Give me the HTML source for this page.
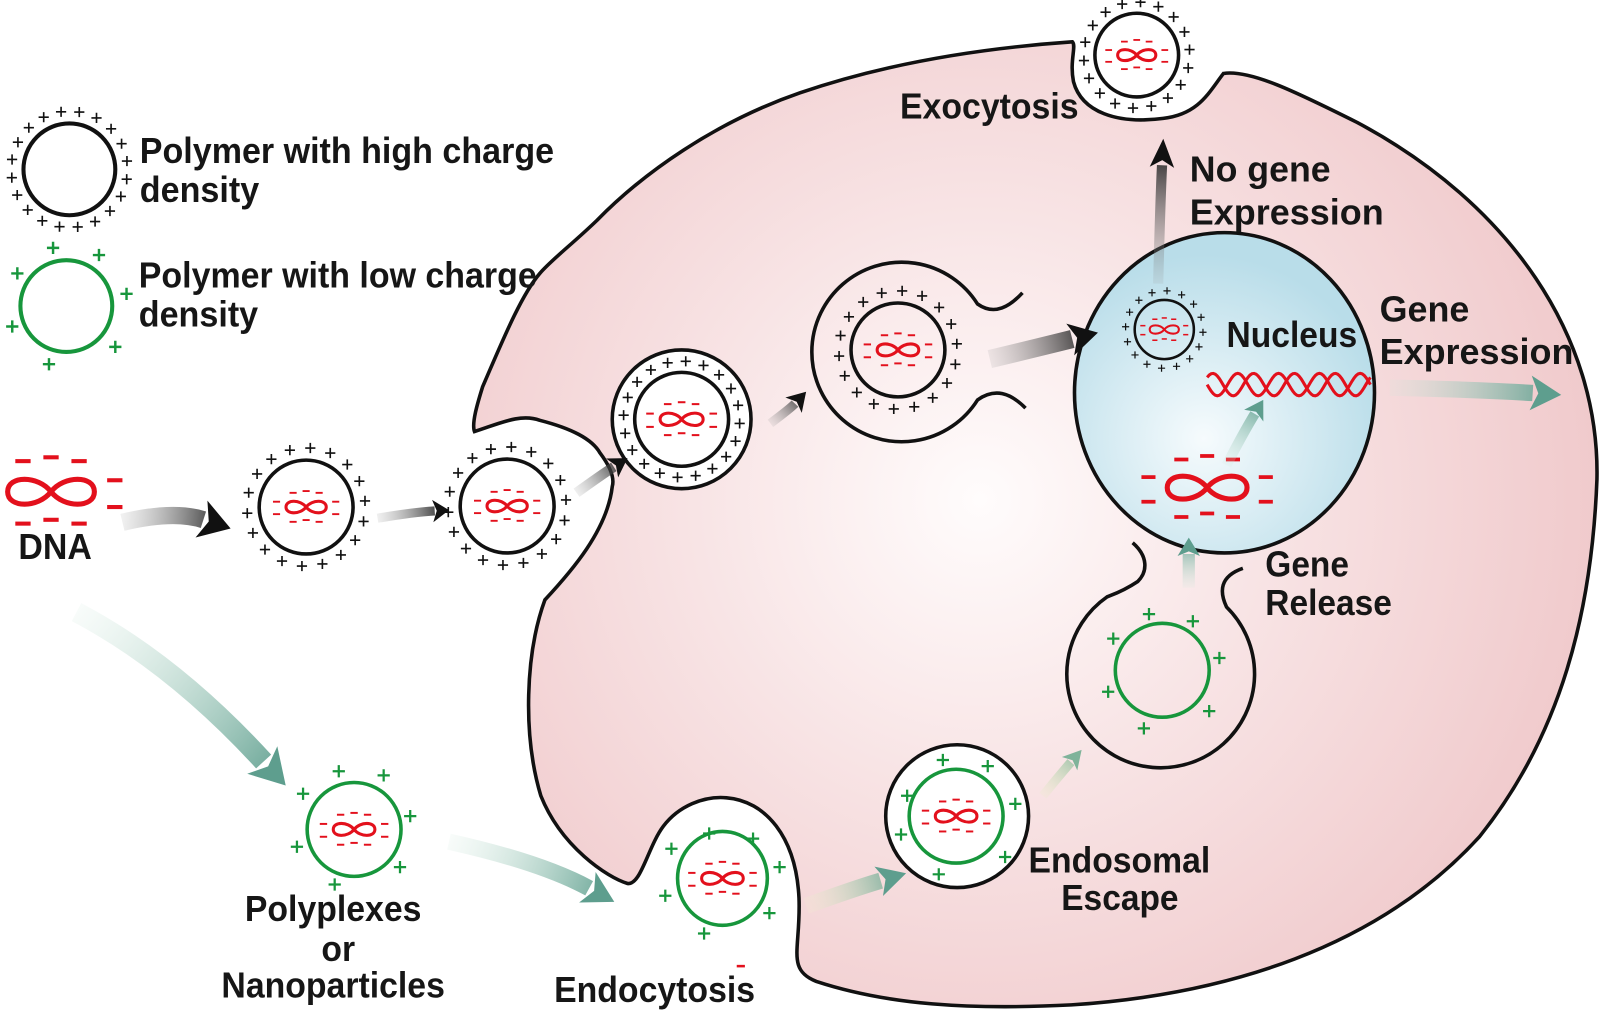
<!DOCTYPE html>
<html><head><meta charset="utf-8"><style>
html,body{margin:0;padding:0;background:#fff;}
svg{display:block;}
text{font-family:"Liberation Sans",Arial,sans-serif;font-weight:bold;font-size:35px;fill:#161616;}
</style></head><body>
<svg id="s" width="1600" height="1010" viewBox="0 0 1568 990" preserveAspectRatio="none" xmlns="http://www.w3.org/2000/svg">
<defs>
<radialGradient id="cellg" cx="960" cy="490" r="620" gradientUnits="userSpaceOnUse">
<stop offset="0" stop-color="#fffcfc"/><stop offset="0.45" stop-color="#f8e4e5"/><stop offset="1" stop-color="#f0c9cb"/></radialGradient>
<radialGradient id="nucg" cx="1180" cy="430" r="180" gradientUnits="userSpaceOnUse">
<stop offset="0" stop-color="#f6fbfd"/><stop offset="1" stop-color="#b9dde9"/></radialGradient>
</defs>
<path d="M465,423 C490,415 510,405 529,412 C560,420 580,430 588,444 C600,460 602,470 600,477 C595,520 560,560 534,588 C515,640 512,720 530,780 C550,830 595,860 615,866 C628,868 635,830 650,810 C665,790 690,780 712,782 C750,785 780,820 783,880 C785,930 770,950 800,962 C870,985 950,990 1050,985 C1200,975 1350,930 1450,820 C1530,720 1560,600 1565,470 C1568,330 1480,200 1330,120 C1270,90 1225,68 1199,72 C1185,90 1175,112 1140,116 C1095,122 1060,110 1052,80 C1048,60 1055,45 1051,41 C950,48 860,65 784,91 C700,120 630,170 585,216 C560,240 540,255 529,268 C510,290 490,340 473,379 C468,395 462,415 465,423 Z" fill="url(#cellg)" stroke="#111" stroke-width="3.5"/>
<ellipse cx="1200" cy="385" rx="147" ry="157" fill="url(#nucg)" stroke="#111" stroke-width="3.5"/>
<path d="M1002,287 C990,300 975,310 958,298 A88,88 0 1 0 958,392 C975,380 990,385 1005,400" fill="none" stroke="#111" stroke-width="3.5"/>
<path d="M1110,532 C1125,545 1125,560 1115,570 C1100,580 1090,583 1085,585 A92,92 0 1 0 1202,595 C1195,580 1195,565 1218,557" fill="none" stroke="#111" stroke-width="3.5"/>
<circle cx="668" cy="411" r="68" fill="#fff" stroke="#111" stroke-width="3.5"/>
<ellipse cx="938" cy="800" rx="70" ry="70" fill="#fff" stroke="#111" stroke-width="3.5"/>
<g id="g"></g>
<text x="137" y="160" textLength="406" lengthAdjust="spacingAndGlyphs">Polymer with high charge</text>
<text x="137" y="198" textLength="117" lengthAdjust="spacingAndGlyphs">density</text>
<text x="136" y="282" textLength="390" lengthAdjust="spacingAndGlyphs">Polymer with low charge</text>
<text x="136" y="320" textLength="117" lengthAdjust="spacingAndGlyphs">density</text>
<text x="18" y="548" textLength="72" lengthAdjust="spacingAndGlyphs">DNA</text>
<text x="882" y="116" textLength="175" lengthAdjust="spacingAndGlyphs">Exocytosis</text>
<text x="1166" y="178" textLength="138" lengthAdjust="spacingAndGlyphs">No gene</text>
<text x="1166" y="220" textLength="190" lengthAdjust="spacingAndGlyphs">Expression</text>
<text x="1202" y="340" textLength="128" lengthAdjust="spacingAndGlyphs">Nucleus</text>
<text x="1352" y="315" textLength="88" lengthAdjust="spacingAndGlyphs">Gene</text>
<text x="1352" y="357" textLength="190" lengthAdjust="spacingAndGlyphs">Expression</text>
<text x="1240" y="565" textLength="82" lengthAdjust="spacingAndGlyphs">Gene</text>
<text x="1240" y="603" textLength="124" lengthAdjust="spacingAndGlyphs">Release</text>
<text x="1008" y="855" textLength="178" lengthAdjust="spacingAndGlyphs">Endosomal</text>
<text x="1040" y="892" textLength="115" lengthAdjust="spacingAndGlyphs">Escape</text>
<text x="240" y="903" textLength="173" lengthAdjust="spacingAndGlyphs">Polyplexes</text>
<text x="315" y="942" textLength="33" lengthAdjust="spacingAndGlyphs">or</text>
<text x="217" y="978" textLength="219" lengthAdjust="spacingAndGlyphs">Nanoparticles</text>
<text x="543" y="982" textLength="197" lengthAdjust="spacingAndGlyphs">Endocytosis</text>
</svg>
<script>
var NS='http://www.w3.org/2000/svg',G=document.getElementById('g'),D=document.querySelector('defs'),gid=0;
function el(t,a,p){var e=document.createElementNS(NS,t);for(var k in a)e.setAttribute(k,a[k]);(p||G).appendChild(e);return e;}
var RED='#e3101c',GRN='#17963c';
function plus(x,y,s,c,w){el('path',{d:'M'+(x-s)+','+y+'h'+(2*s)+'M'+x+','+(y-s)+'v'+(2*s),stroke:c,'stroke-width':w,fill:'none'});}
function ring(cx,cy,pr,n,c,s,w,off){for(var i=0;i<n;i++){var a=(off||0)+i*2*Math.PI/n;plus(cx+pr*Math.cos(a),cy+pr*Math.sin(a),s,c,w);}}
function circ(cx,cy,r,c,w,fill){el('circle',{cx:cx,cy:cy,r:r,stroke:c,'stroke-width':w,fill:fill||'none'});}
function dna(cx,cy,k,sw,dash){
 el('path',{d:'M0,0 C-10,-13 -34,-13 -34,0 C-34,13 -10,13 0,0 C10,-13 34,-13 34,0 C34,13 10,13 0,0Z',transform:'translate('+cx+','+cy+') scale('+k+')',fill:'none',stroke:RED,'stroke-width':sw/k});
 if(!dash)return;
 var pts=[[-22,-24],[0,-27],[22,-24],[-50,-9],[50,-9],[-50,12],[50,12],[-22,25],[0,22],[22,25]];
 pts.forEach(function(p){el('path',{d:'M'+(cx+p[0]*k-6*k)+','+(cy+p[1]*k)+'h'+(12*k),stroke:RED,'stroke-width':Math.max(1.5,3.2*k)});});
}
function grad(x1,y1,x2,y2,c1,c2){var id='ag'+(gid++);var lg=el('linearGradient',{id:id,gradientUnits:'userSpaceOnUse',x1:x1,y1:y1,x2:x2,y2:y2},D);el('stop',{offset:0,'stop-color':c1,'stop-opacity':0.15},lg);el('stop',{offset:1,'stop-color':c2},lg);return 'url(#'+id+')';}
function arrow(x1,y1,cx,cy,x2,y2,w,c1,c2,hl,hw){
 var f=grad(x1,y1,x2,y2,c1,c2);
 var dx=x2-cx,dy=y2-cy,L=Math.hypot(dx,dy);dx/=L;dy/=L;var nx=-dy,ny=dx;
 hl=hl||w*1.7;hw=hw||w*1.15;
 var bx=x2-dx*hl,by=y2-dy*hl;
 el('path',{d:'M'+x1+','+y1+' Q'+cx+','+cy+' '+(bx+dx*2)+','+(by+dy*2),stroke:f,'stroke-width':w,fill:'none'});
 el('path',{d:'M'+x2+','+y2+'L'+(bx+nx*hw)+','+(by+ny*hw)+'L'+(bx+dx*hl*0.25)+','+(by+dy*hl*0.25)+'L'+(bx-nx*hw)+','+(by-ny*hw)+'Z',fill:c2});
}
circ(68,166,45,'#111',4);ring(68,166,57,20,'#111',5,1.6,-1.4);
circ(65,300,45,GRN,4);
[[52,243],[97,250],[17,268],[124,288],[12,320],[113,340],[48,357]].forEach(function(p){plus(p[0],p[1],6,GRN,2.4);});
dna(50,482,1.25,5,true);
circ(300,497,46,'#111',3.5);ring(300,497,58,18,'#111',5,1.6,-1.5);dna(300,497,0.58,3,true);
circ(497,496,46,'#111',3.5);ring(497,496,58,18,'#111',5,1.6,-1.5);dna(497,496,0.58,3,true);
circ(668,411,46,'#111',3.5);ring(668,411,57,20,'#111',5,1.6,-1.5);dna(668,411,0.62,3,true);
circ(880,343,46,'#111',3.5);ring(880,343,58,18,'#111',5,1.6,-1.5);dna(880,343,0.6,3,true);
circ(1141,323,29,'#111',2.5);ring(1141,323,38,16,'#111',3.5,1.2,-1.5);dna(1141,323,0.42,2,true);
circ(1114,54,41,'#111',3.5);ring(1114,54,52,18,'#111',5,1.6,-1.5);dna(1114,54,0.55,3,true);
dna(1183,478,1.15,5,true);
(function(){var a='',b='';for(var x=1183;x<=1343;x+=2){var t=(x-1183)/40*2*Math.PI;a+=(x==1183?'M':'L')+x+','+(377+11*Math.sin(t));b+=(x==1183?'M':'L')+x+','+(377-11*Math.sin(t+0.7));}
el('path',{d:a,stroke:RED,'stroke-width':3,fill:'none'});el('path',{d:b,stroke:RED,'stroke-width':3,fill:'none'});})();
circ(1139,657,46,GRN,3.5);
[[1126,602],[1169,609],[1091,626],[1195,645],[1086,678],[1185,697],[1121,714]].forEach(function(p){plus(p[0],p[1],6,GRN,2.2);});
circ(937,800,46,GRN,3.5);
[[924,745],[968,751],[889,780],[995,788],[883,818],[985,840],[920,857]].forEach(function(p){plus(p[0],p[1],6,GRN,2.2);});dna(937,800,0.6,3,true);
el('ellipse',{cx:708,cy:861,rx:44,ry:46,stroke:GRN,'stroke-width':3.5,fill:'none'});
[[695,817],[738,822],[658,832],[764,850],[652,878],[754,895],[690,915]].forEach(function(p){plus(p[0],p[1],6,GRN,2.2);});dna(708,861,0.6,3,true);
el('path',{d:'M722,947h8',stroke:RED,'stroke-width':2.5});
circ(347,813,46,GRN,3.5);
[[332,756],[376,760],[297,778],[402,800],[291,830],[392,850],[328,867]].forEach(function(p){plus(p[0],p[1],6,GRN,2.2);});dna(347,813,0.6,3,true);
var BK1='#999',BK2='#111',T1='#cfe8dc',T2='#5e9e8e';
arrow(120,512,170,500,226,518,17,BK1,BK2,30,19);
arrow(370,508,405,502,440,500,9,BK1,BK2,16,11);
arrow(565,483,590,465,615,449,10,BK1,BK2,18,11);
arrow(755,415,775,400,790,384,9,BK1,BK2,18,11);
arrow(970,352,1020,340,1076,326,18,BK1,BK2,28,16);
arrow(1135,278,1137,200,1140,136,10,BK1,BK2,28,12);
arrow(1202,456,1218,425,1238,392,10,T1,T2,18,11);
arrow(1165,576,1165,550,1165,527,12,T1,T2,18,11);
arrow(1362,380,1450,382,1530,387,16,T1,T2,30,17);
arrow(1022,780,1040,758,1060,735,9,'#e8f0c0','#7fb39a',18,10);
arrow(790,888,840,870,888,856,16,'#f4f6d0',T2,28,15);
arrow(75,600,170,650,280,770,20,T1,T2,34,20);
arrow(440,825,530,845,602,884,16,T1,T2,30,17);
</script>
</body></html>
